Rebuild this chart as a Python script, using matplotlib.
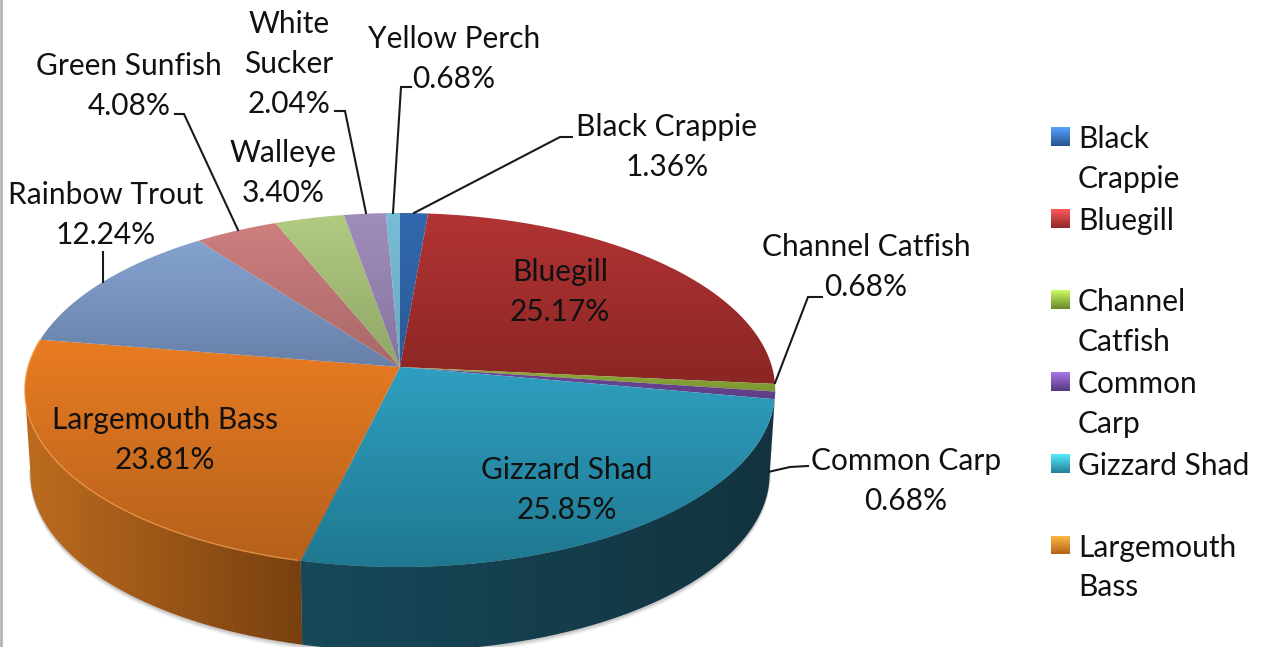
import numpy as np
import matplotlib
matplotlib.use("Agg")
import matplotlib.pyplot as plt
from matplotlib.colors import to_rgb, LinearSegmentedColormap
from matplotlib.patches import Polygon

plt.rcParams['font.family'] = ['Lato', 'DejaVu Sans']

species = ["Black Crappie", "Bluegill", "Channel Catfish", "Common Carp", "Gizzard Shad",
           "Largemouth Bass", "Rainbow Trout", "Green Sunfish", "Walleye", "White Sucker", "Yellow Perch"]
shares = [1.36, 25.17, 0.68, 0.68, 25.85, 23.81, 12.24, 4.08, 3.40, 2.04, 0.68]
share_labels = ["1.36%", "25.17%", "0.68%", "0.68%", "25.85%", "23.81%", "12.24%", "4.08%", "3.40%", "2.04%", "0.68%"]
face_top = ["#3268AE", "#B23434", "#8FAB3A", "#70489A", "#2F9FC0", "#E97C22",
            "#85A3D0", "#CE7F7E", "#B1CB82", "#A08DBB", "#78BCD6"]
face_bottom = ["#2A5A96", "#8A2624", "#7A9632", "#5F3D85", "#1F7890", "#B5601C",
               "#6880A8", "#A86868", "#8FA566", "#8675A0", "#6AA8C0"]
side_left = ["#1F3F66", "#6A1F1F", "#55702A", "#452C60", "#17495A", "#BD6C1E",
             "#4F6A90", "#8A5050", "#6F8550", "#635580", "#5090A8"]
side_right = ["#1F3F66", "#6A1F1F", "#55702A", "#452C60", "#12333F", "#784010",
              "#4F6A90", "#8A5050", "#6F8550", "#635580", "#5090A8"]
legend_names = [["Black", "Crappie"], ["Bluegill"], ["Channel", "Catfish"], ["Common", "Carp"],
                ["Gizzard Shad"], ["Largemouth", "Bass"]]

# label placement: name lines + percent, centre x, first-line centre y
label_spots = {
    "Black Crappie": (667, 127, ["Black Crappie"]),
    "Bluegill": (560, 272, ["Bluegill"]),
    "Channel Catfish": (866, 247, ["Channel Catfish"]),
    "Common Carp": (906, 461, ["Common Carp"]),
    "Gizzard Shad": (567, 470, ["Gizzard Shad"]),
    "Largemouth Bass": (165, 420, ["Largemouth Bass"]),
    "Rainbow Trout": (106, 195, ["Rainbow Trout"]),
    "Green Sunfish": (129, 66, ["Green Sunfish"]),
    "Walleye": (283, 153, ["Walleye"]),
    "White Sucker": (289, 24, ["White", "Sucker"]),
    "Yellow Perch": (454, 39, ["Yellow Perch"]),
}
leaders = [
    [(411, 87), (401, 87), (393, 213)],
    [(572, 137), (560, 137), (414, 213)],
    [(822, 297), (808, 297), (775, 383)],
    [(808, 466), (790, 467), (768, 472)],
    [(103, 252), (103, 282)],
    [(175, 114), (184, 114), (238, 230)],
    [(335, 111), (345, 111), (366, 213)],
]

W, H = 1263, 647
fig = plt.figure(figsize=(W / 100, H / 100), dpi=100)
ax = fig.add_axes([0, 0, 1, 1])
ax.set_xlim(0, W)
ax.set_ylim(H, 0)
ax.axis("off")

CX, CY, RX, RY, K = 400.0, 367.0, 372.0, 174.0, 0.13
DEPTH = 84.0
SHRINK = 0.985
FS = 21.5


def project(theta):
    """clockwise angle from the top of the pie -> picture position of the rim"""
    u, v = np.sin(theta), np.cos(theta)
    w = 1 + K * v
    return CX + RX * u / w, CY - RY * v / w


def gradient(poly_xy, c0, c1, horizontal, z):
    x, y = poly_xy[:, 0], poly_xy[:, 1]
    cmap = LinearSegmentedColormap.from_list("g", [to_rgb(c0), to_rgb(c1)])
    ramp = np.linspace(0, 1, 256)
    ramp = ramp[None, :] if horizontal else ramp[:, None]
    im = ax.imshow(ramp, cmap=cmap, vmin=0, vmax=1, aspect="auto", zorder=z, interpolation="bilinear",
                   extent=(x.min(), x.max(), y.max(), y.min()))
    clip = Polygon(poly_xy, closed=True, transform=ax.transData, fc="none", ec="none")
    ax.add_patch(clip)
    im.set_clip_path(clip)


edges = np.concatenate([[0], np.cumsum(shares)]) / sum(shares) * 2 * np.pi

# the rim is visible between the two outermost points of the ellipse
th_right = np.arccos(-K)
th_left = 2 * np.pi - th_right

# soft shadow under the rim
full = np.linspace(th_right, th_left, 200)
sx, sy = project(full)
for off, alpha in [(5, 0.05), (3.5, 0.07), (2, 0.10)]:
    ax.fill(CX + (sx - CX) * SHRINK, sy + DEPTH + off, color="#000000", alpha=alpha, lw=0, zorder=1)
    ax.fill(CX + (sx - CX) * (SHRINK + off * 0.001), sy + DEPTH - 4, color="#000000", alpha=alpha, lw=0, zorder=1)

# rim
for i in range(len(shares)):
    a0, a1 = max(edges[i], th_right), min(edges[i + 1], th_left)
    if a1 <= a0:
        continue
    th = np.linspace(a0, a1, 80)
    x, y = project(th)
    top = np.column_stack([x, y])
    bottom = np.column_stack([CX + (x - CX) * SHRINK, y + DEPTH])[::-1]
    gradient(np.vstack([top, bottom]), side_left[i], side_right[i], True, 2)

# top face
for i in range(len(shares)):
    th = np.linspace(edges[i], edges[i + 1], 160)
    x, y = project(th)
    poly = np.vstack([[CX, CY], np.column_stack([x, y])])
    gradient(poly, face_top[i], face_bottom[i], False, 3)
ax.set_xlim(0, W)
ax.set_ylim(H, 0)

# rim highlight
hl = np.linspace(np.radians(194), np.radians(279), 120)
hx, hy = project(hl)
ax.plot(hx, hy, color="#F09A4A", lw=1.0, alpha=0.8, zorder=4)

# leaders
for pts in leaders:
    px, py = zip(*pts)
    ax.plot(px, py, color="#1A1A1A", lw=1.5, zorder=5, solid_joinstyle="miter")

# data labels
STEP = 40
for name, pct in zip(species, share_labels):
    lx, ly, lines = label_spots[name]
    for j, t in enumerate(lines + [pct]):
        ax.text(lx, ly + j * STEP, t, ha="center", va="center", fontsize=FS, color="#111111", zorder=6)

# legend
leg_colors = ["#2F66B0", "#B03030", "#84A838", "#6B459A", "#2C9CBC", "#E57A20"]
y_top = 127
for i, (lines, col) in enumerate(zip(legend_names, leg_colors)):
    sq_y = y_top + i * 81.7
    c = np.array(to_rgb(col))
    light = tuple(np.clip(c * 1.35 + 0.1, 0, 1))
    dark = tuple(c * 0.8)
    square = np.array([[1051, sq_y], [1070, sq_y], [1070, sq_y + 19], [1051, sq_y + 19]])
    gradient(square, light, dark, False, 5)
    for j, t in enumerate(lines):
        ax.text(1078, sq_y + 12 + j * 40, t, ha="left", va="center", fontsize=FS, color="#111111")

ax.set_xlim(0, W)
ax.set_ylim(H, 0)

# left frame line
ax.plot([1, 1], [0, H], color="#B4B4B4", lw=2, zorder=7)

fig.savefig("out.png", dpi=100, facecolor="white")
